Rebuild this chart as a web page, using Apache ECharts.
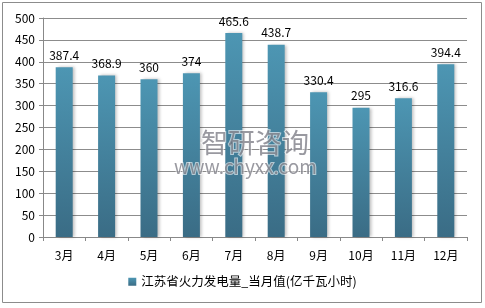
<!DOCTYPE html>
<html><head><meta charset="utf-8">
<script src="https://cdn.jsdelivr.net/npm/echarts@6/dist/echarts.min.js"></script>
<style>html,body{margin:0;padding:0;background:#fff}#c{width:485px;height:308px}</style>
</head><body><div id="c"></div>
<script>
const categories = ['3月','4月','5月','6月','7月','8月','9月','10月','11月','12月'];
const values = [387.4, 368.9, 360, 374, 465.6, 438.7, 330.4, 295, 316.6, 394.4];
const seriesName = '江苏省火力发电量_当月值(亿千瓦小时)';
const chart = echarts.init(document.getElementById('c'));
const font = '"Microsoft YaHei","Noto Sans CJK SC",sans-serif';
chart.setOption({
  animation: false,
  textStyle: {fontFamily: font},
  graphic: [
    {type:'rect', shape:{x:2.5,y:2.5,width:479,height:300}, style:{fill:'none', stroke:'#8c8c8c', lineWidth:1}, z:-1},
    {type:'text', left:200, top:128, style:{text:'智研咨询', font:'27px '+font, fill:'rgba(110,110,120,0.7)', stroke:'rgba(255,255,255,0.6)', lineWidth:2}, z:10},
    {type:'text', left:173, top:156, style:{text:'www.chyxx.com', font:'19px '+font, fill:'rgba(110,110,120,0.7)', stroke:'rgba(255,255,255,0.6)', lineWidth:2}, z:10}
  ],
  grid: {left:43, right:18, top:18, bottom:71},
  legend: {
    data:[seriesName], bottom:15, left:'center', itemWidth:8, itemHeight:8, itemGap:4,
    icon:'rect', textStyle:{fontSize:12.5, color:'#000', fontFamily:font}
  },
  xAxis: {
    type:'category', data:categories,
    axisLine:{lineStyle:{color:'#888'}},
    axisTick:{show:true, length:4, lineStyle:{color:'#888'}},
    axisLabel:{color:'#000', fontSize:12, margin:12, fontFamily:font}
  },
  yAxis: {
    type:'value', min:0, max:500, interval:50,
    axisLine:{show:true, lineStyle:{color:'#888'}},
    axisTick:{show:true, length:4, lineStyle:{color:'#888'}},
    axisLabel:{color:'#000', fontSize:12, margin:8, fontFamily:font},
    splitLine:{lineStyle:{color:'#8c8c8c'}}
  },
  series: [{
    name: seriesName, type:'bar', data: values, barWidth:17,
    itemStyle:{
      color: new echarts.graphic.LinearGradient(0,0,0,1,[{offset:0,color:'#4d96b3'},{offset:1,color:'#3a6c85'}]),
      shadowColor:'rgba(0,0,0,0.25)', shadowBlur:3, shadowOffsetX:2
    },
    label:{show:true, position:'top', color:'#000', fontSize:12, distance:6, fontFamily:font}
  }]
});
</script></body></html>
